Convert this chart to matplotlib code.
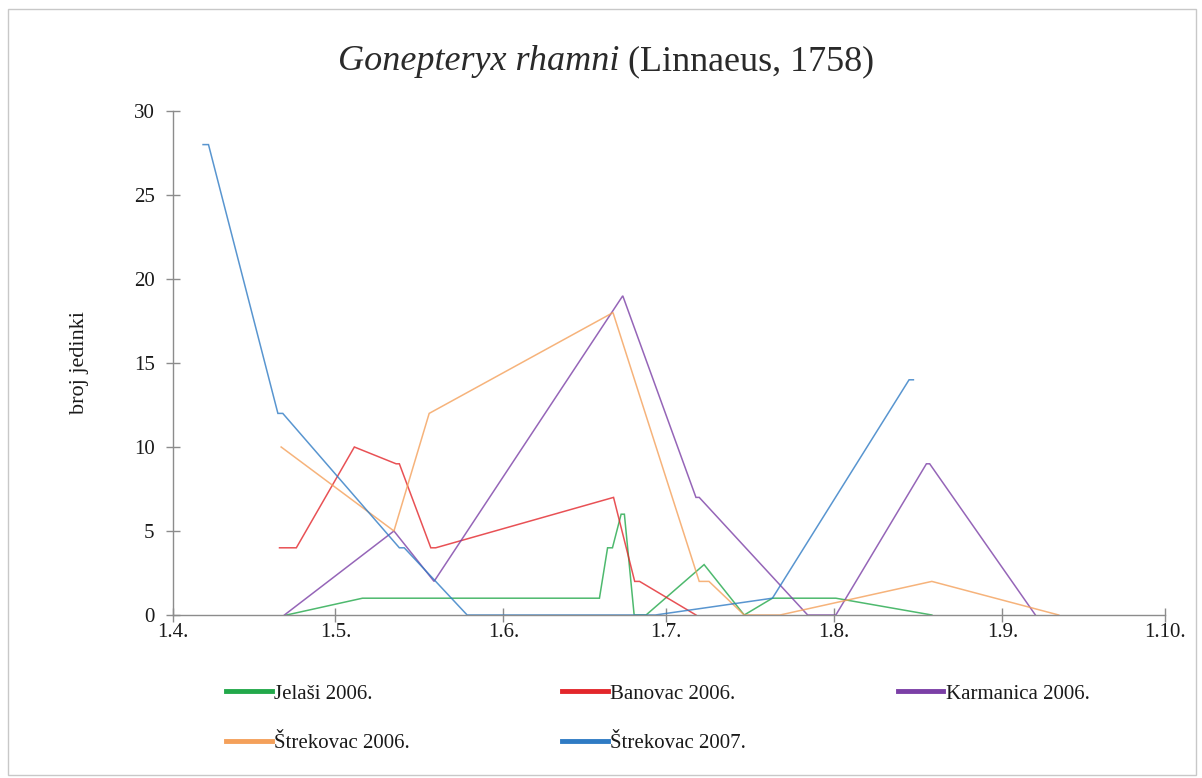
import matplotlib
matplotlib.use("Agg")
import matplotlib.pyplot as plt
from matplotlib.patches import Rectangle

# ---- data (day offsets from 1 April) ----
tick_days = [0, 30, 61, 91, 122, 153, 183]
tick_labels = ["1.4.", "1.5.", "1.6.", "1.7.", "1.8.", "1.9.", "1.10."]

jelasi_days = [21, 35, 78.7, 80.2, 81.1, 82.7, 83.3, 85.1, 87.3, 98, 105.4, 110.6, 122.3, 140]
jelasi_vals = [0, 1, 1, 4, 4, 6, 6, 0, 0, 3, 0, 1, 1, 0]

banovac_days = [19.7, 22.8, 33.5, 41.2, 41.8, 47.6, 48.5, 81.3, 85.2, 86.1, 96.5]
banovac_vals = [4, 4, 10, 9, 9, 4, 4, 7, 2, 2, 0]

karmanica_days = [20.6, 40.8, 48.2, 83, 96.5, 97.1, 117.1, 122.3, 139, 139.6, 159.1]
karmanica_vals = [0, 5, 2, 19, 7, 7, 0, 0, 9, 9, 0]

strek06_days = [20, 40.8, 47.3, 81.2, 97.1, 98.9, 105.4, 112, 140, 163.4]
strek06_vals = [10, 5, 12, 18, 2, 2, 0, 0, 2, 0]

strek07_days = [5.6, 6.6, 19.4, 20.3, 41.8, 42.7, 54.3, 89, 110.6, 135.8, 136.6]
strek07_vals = [28, 28, 12, 12, 4, 4, 0, 0, 1, 14, 14]

series = [
    ("Jelaši 2006.", jelasi_days, jelasi_vals, "#22A84A"),
    ("Banovac 2006.", banovac_days, banovac_vals, "#E3262B"),
    ("Karmanica 2006.", karmanica_days, karmanica_vals, "#7B3FA6"),
    ("Štrekovac 2006.", strek06_days, strek06_vals, "#F4A05A"),
    ("Štrekovac 2007.", strek07_days, strek07_vals, "#2F7BC4"),
]

plt.rcParams['font.family'] = ['Liberation Serif', 'DejaVu Serif']

fig = plt.figure(figsize=(12.02, 7.78), dpi=100)
fig.patches.append(Rectangle((0.007, 0.004), 0.988, 0.985, transform=fig.transFigure,
                             fill=False, edgecolor="#C8C8C8", linewidth=1.0))
ax = fig.add_axes([172.7 / 1202, 1 - 615 / 778, (1165 - 172.7) / 1202, (615 - 111) / 778])

for name, d, v, c in series:
    ax.plot(d, v, color=c, linewidth=1.1, alpha=0.8, label=name, solid_joinstyle='miter')

ax.set_xlim(0, 183)
ax.set_ylim(0, 30)
ax.set_xticks(tick_days)
ax.set_xticklabels(tick_labels)
ax.set_yticks([0, 5, 10, 15, 20, 25, 30])

for s in ["top", "right"]:
    ax.spines[s].set_visible(False)
for s in ["left", "bottom"]:
    ax.spines[s].set_color("#8C8C8C")
    ax.spines[s].set_linewidth(1.0)
ax.tick_params(axis="both", direction="inout", length=10, width=1.0, color="#8C8C8C",
               labelsize=15, labelcolor="#1a1a1a")
ax.tick_params(axis="x", pad=1)
ax.tick_params(axis="y", pad=8)

ax.set_ylabel("broj jedinki", fontsize=16, color="#1a1a1a", labelpad=32)

# title: italic species name + normal author
t1 = fig.text(0.5, 1 - 70 / 778, "Gonepteryx rhamni", fontsize=26, style="italic",
              color="#2a2a2a", ha="left", va="baseline")
t2 = ax.annotate(" (Linnaeus, 1758)", xy=(1, 0), xycoords=t1, fontsize=26,
                 color="#2a2a2a", ha="left", va="bottom")
fig.canvas.draw()
r = fig.canvas.get_renderer()
w1 = t1.get_window_extent(r).width
w2 = t2.get_window_extent(r).width
total = w1 + w2
cx = 606
t1.set_x((cx - total / 2) / 1202)

order = ["Jelaši 2006.", "Štrekovac 2006.", "Banovac 2006.", "Štrekovac 2007.", "Karmanica 2006."]
leg_handles = []
for n in order:
    c = [s[3] for s in series if s[0] == n][0]
    h, = ax.plot([], [], color=c, linewidth=3.5, label=n)
    leg_handles.append(h)
leg = fig.legend(leg_handles, order, ncol=3, loc="upper left",
                 bbox_to_anchor=(226 / 1202, 1 - 684 / 778), frameon=False,
                 fontsize=15, handlelength=2.2, handletextpad=0.1,
                 columnspacing=7.3, labelspacing=1.45, borderaxespad=0, borderpad=0)
for t in leg.get_texts():
    t.set_color("#1a1a1a")

fig.savefig("out.png", dpi=100)
